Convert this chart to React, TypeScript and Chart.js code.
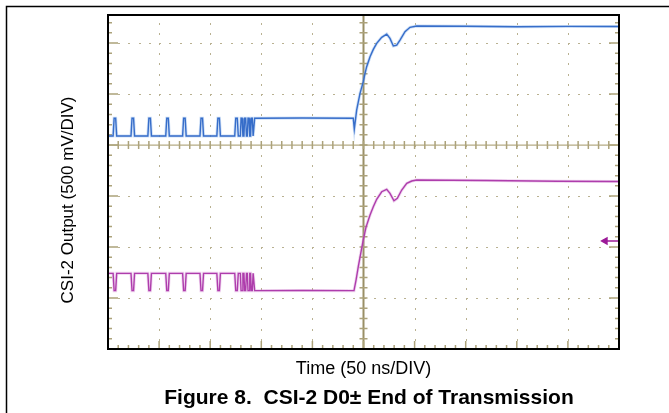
import React, { useEffect, useRef } from "react";
import { Chart, registerables } from "chart.js";

Chart.register(...registerables);

// Scope settings: 50 ns/DIV horizontally, 500 mV/DIV vertically
const timeRange = [-250, 250]; // ns
const voltRange = [-2000, 1275]; // mV (top of the screen is cropped)
const xDivisions = [-200, -150, -100, -50, 50, 100, 150, 200];
const yDivisions = [-1500, -1000, -500, 500, 1000];

const axisTitleY = "CSI-2 Output (500 mV/DIV)";
const axisTitleX = "Time (50 ns/DIV)";
const figureTitle = "Figure 8.  CSI-2 D0\u00b1 End of Transmission";

// Channel 1 (D0+, blue)
const ch1Time = [
  -250,
  -245, -244, -242.5, -241.5,
  -227.5, -226.5, -225, -224,
  -211, -210, -208.5, -207.5,
  -193.5, -192.5, -191, -190,
  -177, -176, -174.5, -173.5,
  -160, -159, -157.5, -156.5,
  -143.5, -142.5, -141, -140,
  -126, -125, -123.5, -122.5,
  -120.5, -119.8, -118.8, -118,
  -117, -116.3, -115.3, -114.5,
  -113.7, -113, -112, -111.3,
  -110.5, -109.8, -108.8, -108,
  -107.2, -106.5, -60, -10,
  -9, -6.7, -3.4, -0.2,
  1.5, 3.1, 6.4, 9.6,
  12.9, 17.8, 22.7, 25.9,
  29.2, 32.5, 35.7, 40.6,
  45.5, 52.1, 100, 150,
  200, 250,
];
const ch1Volt = [
  88,
  88, 262, 262, 88,
  88, 262, 262, 88,
  88, 262, 262, 88,
  88, 262, 262, 88,
  88, 262, 262, 88,
  88, 262, 262, 88,
  88, 262, 262, 88,
  88, 262, 262, 88,
  88, 262, 262, 88,
  88, 262, 262, 88,
  88, 262, 262, 88,
  88, 262, 262, 88,
  88, 262, 265, 262,
  157, 343, 507, 621,
  703, 768, 866, 938,
  997, 1056, 1088, 1046,
  971, 980, 1029, 1111,
  1154, 1167, 1165, 1160,
  1163, 1162,
];

// Channel 2 (D0-, magenta)
const ch2Time = [
  -250,
  -245, -244, -242.5, -241.5,
  -227.5, -226.5, -225, -224,
  -211, -210, -208.5, -207.5,
  -193.5, -192.5, -191, -190,
  -177, -176, -174.5, -173.5,
  -160, -159, -157.5, -156.5,
  -143.5, -142.5, -141, -140,
  -126, -125, -123.5, -122.5,
  -120.5, -119.8, -118.8, -118,
  -117, -116.3, -115.3, -114.5,
  -113.7, -113, -112, -111.3,
  -110.5, -109.8, -108.8, -108,
  -107.2, -106.5, -60, -9.3,
  -7.3, -5.1, -2.7, -0.2,
  2.4, 6.4, 9.6, 12.9,
  17.8, 22.7, 25.9, 29.8,
  33.1, 37.4, 42.3, 47.2,
  52.1, 120, 190, 250,
];
const ch2Volt = [
  -1258,
  -1258, -1428, -1428, -1258,
  -1258, -1428, -1428, -1258,
  -1258, -1428, -1428, -1258,
  -1258, -1428, -1428, -1258,
  -1258, -1428, -1428, -1258,
  -1258, -1428, -1428, -1258,
  -1258, -1428, -1428, -1258,
  -1258, -1428, -1428, -1258,
  -1258, -1428, -1428, -1258,
  -1258, -1428, -1428, -1258,
  -1258, -1428, -1428, -1258,
  -1258, -1428, -1428, -1258,
  -1258, -1428, -1426, -1428,
  -1324, -1193, -1062, -931,
  -807, -686, -605, -532,
  -458, -434, -474, -546,
  -523, -441, -376, -353,
  -343, -348, -355, -358,
];

// Channel 2 ground reference marker
const markerTime = [236.5, 250];
const markerVolt = [-941, -941];

const toPoints = (xs: number[], ys: number[]) => xs.map((t, i) => ({ x: t, y: ys[i] }));

const FONT = "'Liberation Sans', Arial, Helvetica, sans-serif";

const scopePlugin = {
  id: "scopeGrid",
  beforeDatasetsDraw(chart: any) {
    const { ctx, chartArea: a, scales } = chart;
    const x = scales.x;
    const y = scales.y;
    ctx.save();
    // dotted division lines
    ctx.fillStyle = "#b9b191";
    for (const xv of xDivisions) {
      const px = Math.round(x.getPixelForValue(xv));
      for (let v = voltRange[0] + 100; v < voltRange[1]; v += 100) {
        const py = Math.round(y.getPixelForValue(v));
        ctx.fillRect(px, py, 1, 2);
      }
    }
    for (const yv of yDivisions) {
      const py = Math.round(y.getPixelForValue(yv));
      for (let t = timeRange[0] + 10; t < timeRange[1]; t += 10) {
        const px = Math.round(x.getPixelForValue(t));
        ctx.fillRect(px, py, 2, 1);
      }
    }
    const cx = x.getPixelForValue(0);
    const cy = y.getPixelForValue(0);
    // center axes
    ctx.strokeStyle = "#b5ab84";
    ctx.lineWidth = 1.2;
    ctx.beginPath();
    ctx.moveTo(a.left, cy);
    ctx.lineTo(a.right, cy);
    ctx.stroke();
    ctx.strokeStyle = "#9a8f66";
    ctx.lineWidth = 2;
    ctx.beginPath();
    ctx.moveTo(cx, a.top);
    ctx.lineTo(cx, a.bottom);
    ctx.stroke();
    // ticks
    ctx.strokeStyle = "#aca27a";
    ctx.lineWidth = 1.5;
    ctx.beginPath();
    for (let v = voltRange[0] + 100; v < voltRange[1]; v += 100) {
      const py = y.getPixelForValue(v);
      const major = v % 500 === 0;
      const len = major ? 10 : 4;
      ctx.moveTo(a.left, py);
      ctx.lineTo(a.left + len, py);
      ctx.moveTo(a.right - len, py);
      ctx.lineTo(a.right, py);
      ctx.moveTo(cx - 4, py);
      ctx.lineTo(cx + 4, py);
    }
    for (let t = timeRange[0] + 10; t < timeRange[1]; t += 10) {
      const px = x.getPixelForValue(t);
      const major = t % 50 === 0;
      const len = major ? 8 : 4;
      ctx.moveTo(px, a.bottom);
      ctx.lineTo(px, a.bottom - len);
      ctx.moveTo(px, cy - 4);
      ctx.lineTo(px, cy + 4);
    }
    ctx.stroke();
    ctx.restore();
  },
  afterDatasetsDraw(chart: any) {
    const { ctx, chartArea: a } = chart;
    ctx.save();
    ctx.strokeStyle = "#000";
    ctx.lineWidth = 2;
    ctx.strokeRect(a.left, a.top, a.right - a.left, a.bottom - a.top);
    ctx.restore();
  },
  afterDraw(chart: any) {
    const { ctx, chartArea: a } = chart;
    ctx.save();
    // page frame
    ctx.strokeStyle = "#000";
    ctx.lineWidth = 1.5;
    ctx.beginPath();
    ctx.moveTo(6.5, chart.height);
    ctx.lineTo(6.5, 6.5);
    ctx.lineTo(chart.width, 6.5);
    ctx.stroke();
    ctx.fillStyle = "#000";
    ctx.textAlign = "center";
    ctx.textBaseline = "middle";
    // y title
    ctx.save();
    ctx.translate(68, 200);
    ctx.rotate(-Math.PI / 2);
    ctx.font = `17px ${FONT}`;
    ctx.fillText(axisTitleY, 0, 0);
    ctx.restore();
    // x title
    ctx.font = `18px ${FONT}`;
    ctx.fillText(axisTitleX, (a.left + a.right) / 2, 369);
    // figure caption
    ctx.font = `bold 21px ${FONT}`;
    ctx.fillText(figureTitle, 369, 398);
    ctx.restore();
  },
};

export default function App() {
  const ref = useRef<HTMLCanvasElement>(null);
  useEffect(() => {
    if (!ref.current) return;
    const ch1 = toPoints(ch1Time, ch1Volt);
    const ch2 = toPoints(ch2Time, ch2Volt);
    const chart = new Chart(ref.current, {
      type: "line",
      data: {
        datasets: [
          { label: "D0+ glow", data: ch1, borderColor: "rgba(110,160,230,0.35)", borderWidth: 3, pointRadius: 0 },
          { label: "D0+", data: ch1, borderColor: "#1a52bb", borderWidth: 1.4, pointRadius: 0 },
          { label: "D0- glow", data: ch2, borderColor: "rgba(210,130,210,0.35)", borderWidth: 3, pointRadius: 0 },
          { label: "D0-", data: ch2, borderColor: "#9c1a98", borderWidth: 1.4, pointRadius: 0 },
          {
            label: "CH2 level",
            data: toPoints(markerTime, markerVolt),
            borderColor: "#9c1a98",
            backgroundColor: "#9c1a98",
            borderWidth: 1.5,
            pointStyle: "triangle",
            rotation: -90,
            pointRadius: [3.5, 0],
          },
        ],
      },
      options: {
        responsive: false,
        animation: false,
        devicePixelRatio: 1,
        events: [],
        layout: { padding: { left: 108, right: 50, top: 15, bottom: 64 } },
        elements: { line: { tension: 0 } },
        scales: {
          x: { type: "linear", min: timeRange[0], max: timeRange[1], display: false },
          y: { type: "linear", min: voltRange[0], max: voltRange[1], display: false },
        },
        plugins: { legend: { display: false }, tooltip: { enabled: false }, title: { display: false } },
      },
      plugins: [scopePlugin],
    } as any);
    return () => chart.destroy();
  }, []);
  return (
    <div style={{ position: "fixed", left: 0, top: 0, width: 669, height: 413, background: "#fff" }}>
      <canvas ref={ref} width={669} height={413} style={{ display: "block", width: 669, height: 413 }} />
    </div>
  );
}
